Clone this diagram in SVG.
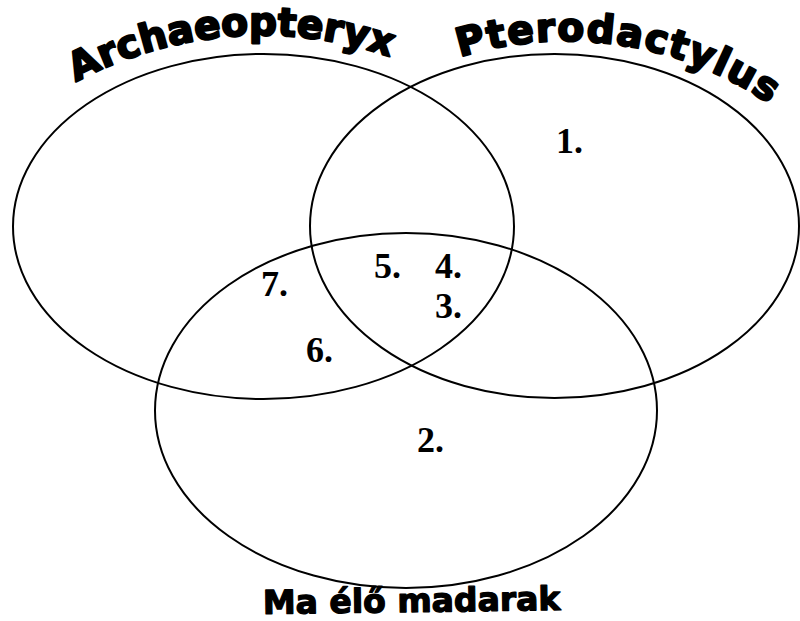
<svg xmlns="http://www.w3.org/2000/svg" width="800" height="621" viewBox="0 0 800 621">
<style>
.set{fill:none;stroke:#000;stroke-width:2}
.num{font-family:"Liberation Serif","Times New Roman",serif;font-weight:bold;font-size:36px;fill:#000}
.title{font-family:"DejaVu Sans","Liberation Sans",sans-serif;font-weight:bold;fill:#000;stroke:#000;stroke-width:2.2;stroke-linejoin:round}
</style>
<defs>
<path id="arcA" d="M76,82 A392.9,392.9 0 0 1 470,95"/>
<path id="arcP" d="M460,57 A359.6,359.6 0 0 1 820,146"/>
</defs>
<rect width="800" height="621" fill="#fff"/>
<g id="sets">
<ellipse id="archaeopteryx-set" class="set" cx="263.5" cy="226.5" rx="250.5" ry="172.5"/>
<ellipse id="pterodactylus-set" class="set" cx="554.5" cy="226" rx="244.5" ry="172"/>
<ellipse id="birds-set" class="set" cx="406" cy="410.5" rx="251" ry="177.5"/>
</g>
<g id="label-archaeopteryx"><text class="title" font-size="39" letter-spacing="0.1"><textPath href="#arcA">Archaeopteryx</textPath></text></g>
<g id="label-pterodactylus"><text class="title" font-size="39" letter-spacing="1.5"><textPath href="#arcP">Pterodactylus</textPath></text></g>
<g id="label-birds"><text class="title" font-size="33" x="263" y="612" style="stroke-width:1.3" transform="rotate(-0.8 410 612)">Ma élő madarak</text></g>
<g id="numbers">
<text class="num" x="556" y="153">1.</text>
<text class="num" x="417" y="452">2.</text>
<text class="num" x="435" y="318">3.</text>
<text class="num" x="435" y="278">4.</text>
<text class="num" x="374" y="278">5.</text>
<text class="num" x="306" y="362">6.</text>
<text class="num" x="261" y="296">7.</text>
</g>
</svg>
